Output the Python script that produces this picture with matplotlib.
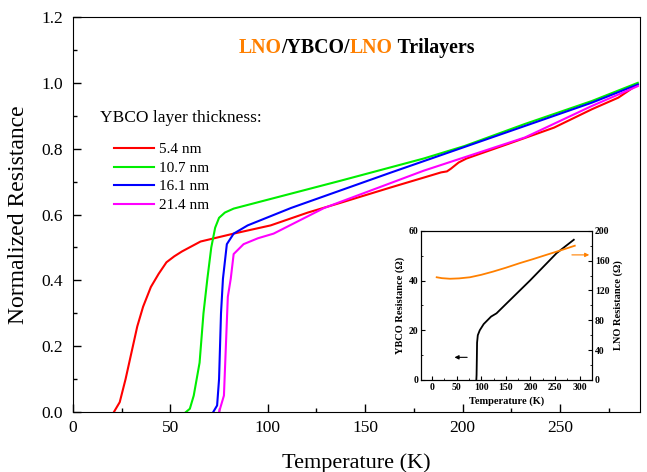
import matplotlib
matplotlib.use("Agg")
import matplotlib.pyplot as plt
import numpy as np
from matplotlib.ticker import MultipleLocator
from matplotlib.offsetbox import TextArea, HPacker, AnchoredOffsetbox

plt.rcParams['font.family'] = ['Liberation Serif', 'DejaVu Serif']
plt.rcParams['mathtext.fontset'] = 'stix'

# ---- data ----
labels = ["5.4 nm", "10.7 nm", "16.1 nm", "21.4 nm"]
colors = ["#FF0000", "#00EE00", "#0000FF", "#FF00FF"]

T_54 = [21, 24, 27, 30, 33, 36, 40, 44, 48, 52, 56, 65.5, 82.5, 101.5, 120.6, 137.6, 163, 180, 189, 192, 194, 198, 202, 223.7, 247, 266.5, 280, 290]
R_54 = [0, 0.03, 0.1, 0.18, 0.26, 0.32, 0.38, 0.42, 0.455, 0.473, 0.488, 0.518, 0.542, 0.567, 0.606, 0.636, 0.682, 0.712, 0.728, 0.731, 0.739, 0.758, 0.77, 0.815, 0.864, 0.92, 0.955, 0.995]

T_107 = [58, 60, 62, 65, 67, 69, 71, 73, 75, 78, 82.5, 100, 137.6, 180, 201, 232, 266.5, 290]
R_107 = [0, 0.01, 0.05, 0.15, 0.3, 0.405, 0.5, 0.56, 0.59, 0.606, 0.618, 0.645, 0.703, 0.77, 0.808, 0.875, 0.945, 1.0]

T_161 = [72, 74, 75, 76, 77, 79, 82.5, 89.7, 112, 163, 215, 266.5, 290]
R_161 = [0, 0.02, 0.1, 0.3, 0.405, 0.51, 0.542, 0.567, 0.62, 0.727, 0.834, 0.94, 0.995]

T_214 = [75, 77.5, 78.5, 79.5, 81, 82.5, 87.6, 95, 103, 129, 180, 232, 266.5, 290]
R_214 = [0, 0.05, 0.2, 0.35, 0.405, 0.48, 0.51, 0.528, 0.542, 0.62, 0.733, 0.834, 0.93, 0.99]

# inset data
T_ybco = [90, 90.5, 91, 91.5, 93, 97, 105, 120, 131, 150, 199, 253, 288]
R_ybco = [0, 2, 8, 15, 18, 20, 22.5, 25.5, 26.8, 30.5, 40, 51, 56.4]
T_lno = [9.5, 20, 36.5, 55, 77, 100, 124, 150, 178.5, 205, 232, 260, 290]
R_lno = [137.7, 136.5, 135.7, 136.2, 137.7, 141, 145.3, 150.5, 156.7, 162, 167.7, 173.5, 180]

series = [(T_54, R_54), (T_107, R_107), (T_161, R_161), (T_214, R_214)]

fig = plt.figure(figsize=(6.47, 4.72), dpi=100)
ax = fig.add_axes([0.1128, 0.127, 0.876, 0.837])

handles = []
for (t, r), c, lab in zip(series, colors, labels):
    h, = ax.plot(t, r, color=c, lw=1.5, label=lab)
    handles.append(h)

ax.set_xlim(0, 291)
ax.set_ylim(0, 1.2)
ax.xaxis.set_major_locator(MultipleLocator(50))
ax.xaxis.set_minor_locator(MultipleLocator(25))
ax.yaxis.set_major_locator(MultipleLocator(0.2))
ax.yaxis.set_minor_locator(MultipleLocator(0.1))
ax.yaxis.set_major_formatter(matplotlib.ticker.FormatStrFormatter('%.1f'))
ax.tick_params(which='both', direction='in', top=False, right=False, labelsize=12.5)
ax.tick_params(axis='y', which='major', pad=7)
ax.tick_params(axis='x', which='major', pad=6)
ax.tick_params(which='major', length=6, width=1)
ax.tick_params(which='minor', length=3, width=1)
ax.set_xlabel("Temperature (K)", fontsize=16, labelpad=12)
ax.set_ylabel("Normalized Resistance", fontsize=17, labelpad=9)

ax.text(0.047, 0.744, "YBCO layer thickness:", transform=ax.transAxes, fontsize=12.5, va='center', ha='left')
ax.legend(handles=handles, loc='upper left', bbox_to_anchor=(0.073, 0.682), frameon=False,
          fontsize=11, handlelength=2.6, handletextpad=0.3, labelspacing=0.32,
          borderpad=0, borderaxespad=0)

# title with coloured pieces
orange = "#FF8000"
parts = [("LNO", orange), ("/YBCO/", "black"), ("LNO", orange), (" Trilayers", "black")]
tas = [TextArea(s, textprops=dict(color=c, fontsize=14.3, fontweight='bold')) for s, c in parts]
box = HPacker(children=tas, align="baseline", pad=0, sep=0)
anch = AnchoredOffsetbox(loc='center', child=box, frameon=False,
                         bbox_to_anchor=(0.5, 0.922), bbox_transform=ax.transAxes, pad=0, borderpad=0)
ax.add_artist(anch)

# inset
ax2 = fig.add_axes([0.651, 0.195, 0.264, 0.316])
ax2.plot(T_ybco, R_ybco, color='black', lw=1.3)
ax2.set_xlim(-22, 325)
ax2.set_ylim(0, 60)
ax2.xaxis.set_major_locator(MultipleLocator(50))
ax2.xaxis.set_minor_locator(MultipleLocator(25))
ax2.yaxis.set_major_locator(MultipleLocator(20))
ax2.yaxis.set_minor_locator(MultipleLocator(10))
ax2.tick_params(which='both', direction='in', labelsize=7, pad=2)
ax2.tick_params(which='major', length=3)
ax2.tick_params(which='minor', length=1.5)
for lab in ax2.get_xticklabels() + ax2.get_yticklabels():
    lab.set_fontweight('bold')
ax2.set_xlabel("Temperature (K)", fontsize=7.5, fontweight='bold', labelpad=3)
ax2.set_ylabel("YBCO Resistance (Ω)", fontsize=7.5, fontweight='bold', labelpad=3)
ax2.annotate("", xy=(40, 9.1), xytext=(77, 9.1),
             arrowprops=dict(arrowstyle='-|>', color='black', lw=0.8, mutation_scale=6))

ax3 = ax2.twinx()
ax3.plot(T_lno, R_lno, color=orange, lw=1.3)
ax3.set_ylim(0, 200)
ax3.yaxis.set_major_locator(MultipleLocator(40))
ax3.yaxis.set_minor_locator(MultipleLocator(20))
ax3.tick_params(which='both', direction='in', labelsize=7, pad=2)
ax3.tick_params(which='major', length=3)
ax3.tick_params(which='minor', length=1.5)
for lab in ax3.get_yticklabels():
    lab.set_fontweight('bold')
ax3.set_ylabel("LNO Resistance (Ω)", fontsize=7.5, fontweight='bold', labelpad=3)
ax3.annotate("", xy=(325, 167.7), xytext=(278.5, 167.7),
             arrowprops=dict(arrowstyle='-|>', color=orange, lw=0.8, mutation_scale=6))

fig.savefig("out.png", dpi=100)
